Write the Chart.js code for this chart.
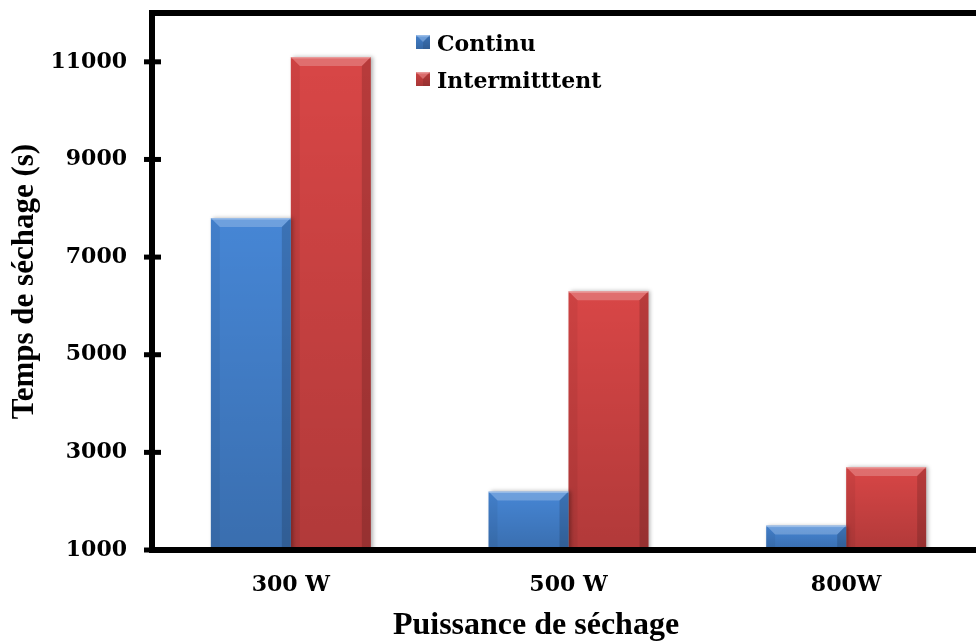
<!DOCTYPE html>
<html>
<head>
<meta charset="utf-8">
<script src="https://cdn.jsdelivr.net/npm/chart.js@4.4.1/dist/chart.umd.min.js"></script>
<style>
  html, body { margin: 0; padding: 0; background: #fff; overflow: hidden; }
</style>
</head>
<body>
<canvas id="chart" width="992" height="643"></canvas>
<script>
const categories = ['300 W', '500 W', '800W'];
const continu = [7800, 2200, 1500];
const intermittent = [11100, 6300, 2700];
const yTicks = [1000, 3000, 5000, 7000, 9000, 11000];
const xTitle = 'Puissance de séchage';
const yTitle = 'Temps de séchage (s)';

const tickFont = { family: 'DejaVu Serif', size: 22, weight: 'bold' };
const titleFont = { family: 'Liberation Serif', size: 31, weight: 'bold' };

// bevelled face on top of a flat bar: light top edge, darker sides, darker toward the base
function drawBevel(ctx, x0, x1, top, bottom) {
  const b = Math.min(9, (bottom - top) / 2, (x1 - x0) / 2);
  const shade = ctx.createLinearGradient(0, top, 0, bottom);
  shade.addColorStop(0, 'rgba(0,0,0,0)');
  shade.addColorStop(1, 'rgba(0,0,0,0.18)');
  ctx.fillStyle = shade;
  ctx.fillRect(x0, top, x1 - x0, bottom - top);

  ctx.fillStyle = 'rgba(255,255,255,0.22)';
  ctx.beginPath();
  ctx.moveTo(x0, top); ctx.lineTo(x1, top); ctx.lineTo(x1 - b, top + b); ctx.lineTo(x0 + b, top + b);
  ctx.closePath(); ctx.fill();

  ctx.fillStyle = 'rgba(0,0,0,0.05)';
  ctx.beginPath();
  ctx.moveTo(x0, top); ctx.lineTo(x0 + b, top + b); ctx.lineTo(x0 + b, bottom); ctx.lineTo(x0, bottom);
  ctx.closePath(); ctx.fill();

  ctx.fillStyle = 'rgba(0,0,0,0.15)';
  ctx.beginPath();
  ctx.moveTo(x1, top); ctx.lineTo(x1 - b, top + b); ctx.lineTo(x1 - b, bottom); ctx.lineTo(x1, bottom);
  ctx.closePath(); ctx.fill();

  ctx.fillStyle = 'rgba(255,255,255,0.3)';
  ctx.fillRect(x0, top, x1 - x0, 1.5);
}

const bevelPlugin = {
  id: 'bevel',
  beforeDatasetsDraw(chart) {
    const ctx = chart.ctx;
    ctx.save();
    ctx.shadowColor = 'rgba(0,0,0,0.3)';
    ctx.shadowBlur = 4;
    ctx.shadowOffsetX = 2;
  },
  afterDatasetsDraw(chart) {
    const ctx = chart.ctx;
    ctx.restore();
    const floor = chart.chartArea.bottom;
    chart.data.datasets.forEach((ds, i) => {
      chart.getDatasetMeta(i).data.forEach(bar => {
        const { x, y, base, width } = bar.getProps(['x', 'y', 'base', 'width'], true);
        drawBevel(ctx, x - width / 2, x + width / 2, y, Math.min(base, floor));
      });
    });
  }
};

// heavy frame: left and bottom axes, top rule, cross ticks on the value axis
const framePlugin = {
  id: 'frame',
  afterDatasetsDraw(chart) {
    const ctx = chart.ctx;
    const { left, top, bottom } = chart.chartArea;
    const w = chart.width;
    ctx.save();
    ctx.strokeStyle = '#000';
    ctx.lineWidth = 6;
    ctx.beginPath();
    ctx.moveTo(w, top); ctx.lineTo(left, top);
    ctx.lineTo(left, bottom); ctx.lineTo(w, bottom);
    ctx.stroke();
    ctx.lineWidth = 5;
    const yScale = chart.scales.y;
    yTicks.forEach(v => {
      const py = yScale.getPixelForValue(v);
      ctx.beginPath();
      ctx.moveTo(left - 8, py); ctx.lineTo(left + 9, py);
      ctx.stroke();
    });
    ctx.restore();
  }
};

// legend boxes in the upper plot area and the category-axis title, set off-centre
const labelsPlugin = {
  id: 'boxLegend',
  afterDraw(chart) {
    const ctx = chart.ctx;
    ctx.save();
    chart.data.datasets.forEach((ds, i) => {
      const sx = 416, sy = 35 + i * 37, s = 14;
      ctx.fillStyle = ds.backgroundColor;
      ctx.fillRect(sx, sy, s, s);
      drawBevel(ctx, sx, sx + s, sy, sy + s);
      ctx.fillStyle = '#000';
      ctx.font = 'bold 22px "DejaVu Serif"';
      ctx.textBaseline = 'alphabetic';
      ctx.fillText(ds.label, 437, sy + 16);
    });
    ctx.font = 'bold 32px "Liberation Serif"';
    ctx.textAlign = 'center';
    ctx.fillText(xTitle, 536, 634);
    ctx.restore();
  }
};

new Chart(document.getElementById('chart'), {
  type: 'bar',
  data: {
    labels: categories,
    datasets: [
      { label: 'Continu', data: continu, backgroundColor: '#4686d5' },
      { label: 'Intermitttent', data: intermittent, backgroundColor: '#d84646' }
    ]
  },
  options: {
    responsive: false,
    animation: false,
    layout: { padding: { top: 13, right: 7, left: 0, bottom: 0 } },
    datasets: { bar: { categoryPercentage: 0.576, barPercentage: 1.0 } },
    plugins: { legend: { display: false }, tooltip: { enabled: false } },
    scales: {
      x: {
        grid: { display: false, drawTicks: false },
        border: { display: false },
        ticks: { color: '#000', font: tickFont, padding: 22 },
        afterFit: scale => {
          scale.height = 93;
          scale.paddingLeft = 0; scale.paddingRight = 0;
        }
      },
      y: {
        min: 1000,
        max: 12000,
        grid: { display: false, drawTicks: false },
        border: { display: false },
        afterBuildTicks: scale => { scale.ticks = yTicks.map(v => ({ value: v })); },
        ticks: { color: '#000', font: tickFont, padding: 25, callback: v => String(v) },
        title: { display: true, text: yTitle, color: '#000', font: titleFont, padding: { top: 6, bottom: 0 } },
        afterFit: scale => {
          scale.width = 152;
          scale.paddingTop = 0; scale.paddingBottom = 0;
        }
      }
    }
  },
  plugins: [bevelPlugin, framePlugin, labelsPlugin]
});
</script>
</body>
</html>
